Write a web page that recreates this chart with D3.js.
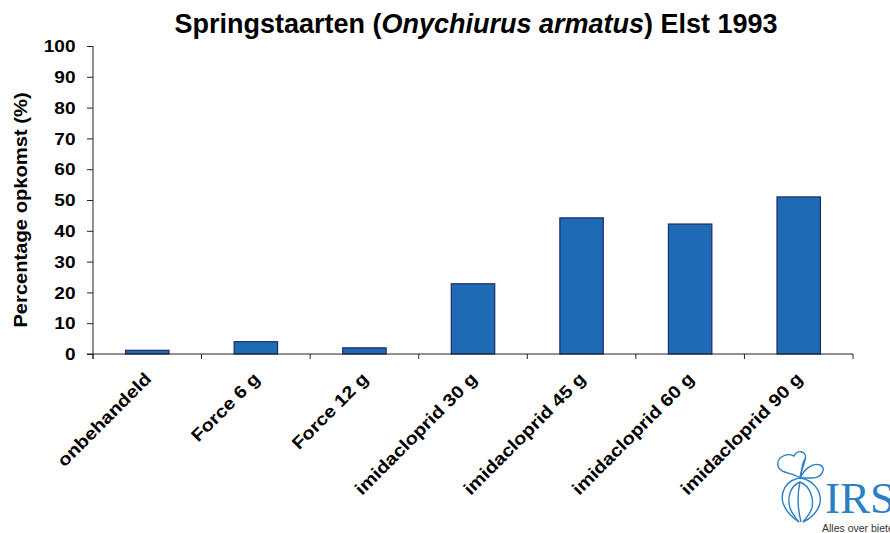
<!DOCTYPE html>
<html>
<head>
<meta charset="utf-8">
<script src="https://cdn.jsdelivr.net/npm/d3@7"></script>
<style>
  html, body { margin: 0; padding: 0; background: #fff; }
  svg { display: block; }
  text { font-family: "Liberation Sans", Arial, sans-serif; font-weight: bold; fill: #000; }
</style>
</head>
<body>
<svg id="chart" width="890" height="533"></svg>
<script>
// ---- data ----
const categories = ["onbehandeld", "Force 6 g", "Force 12 g", "imidacloprid 30 g", "imidacloprid 45 g", "imidacloprid 60 g", "imidacloprid 90 g"];
const values = [1.2, 4, 2, 22.8, 44.2, 42.2, 51];
const yTicks = [0, 10, 20, 30, 40, 50, 60, 70, 80, 90, 100];
const titleParts = [["Springstaarten (", false], ["Onychiurus armatus", true], [") Elst 1993", false]];
const yLabel = "Percentage opkomst (%)";

// ---- layout ----
const svg = d3.select("#chart");
const mLeft = 93, mRight = 853, mTop = 46, mBottom = 354;
const stretch = 1.12;

const x = d3.scaleBand().domain(categories).range([mLeft, mRight]).paddingInner(0.6).paddingOuter(0.3);
const xEdge = d3.scaleBand().domain(categories).range([mLeft, mRight]).padding(0);
const y = d3.scaleLinear().domain([0, 100]).range([mBottom, mTop]);

// title
const title = svg.append("text").attr("x", 476).attr("y", 33).attr("text-anchor", "middle").style("font-size", "27px");
titleParts.forEach(([t, it]) => title.append("tspan").text(t).style("font-style", it ? "italic" : "normal"));

// y label
svg.append("text")
  .attr("transform", `translate(27,210) rotate(-90) scale(${stretch},1)`)
  .attr("text-anchor", "middle")
  .style("font-size", "18px")
  .text(yLabel);

// bars
svg.append("g").selectAll("rect").data(categories).join("rect")
  .attr("x", d => x(d))
  .attr("width", x.bandwidth())
  .attr("y", (d, i) => y(values[i]))
  .attr("height", (d, i) => y(0) - y(values[i]))
  .attr("fill", "#1f6ab5")
  .attr("stroke", "#1b2d66")
  .attr("stroke-width", 1.2);

// y axis
const yAxis = svg.append("g").attr("transform", `translate(${mLeft},0)`)
  .call(d3.axisLeft(y).tickValues(yTicks).tickSize(6).tickPadding(0).tickFormat(""));
yAxis.select(".domain").attr("d", `M0,${mTop}V${mBottom + 5}`).attr("stroke", "#222");
yAxis.selectAll(".tick line").attr("stroke", "#222");
svg.append("g").selectAll("text").data(yTicks).join("text")
  .attr("transform", d => `translate(75.5,${y(d)}) scale(${stretch},1)`)
  .attr("dy", "0.36em")
  .attr("text-anchor", "end")
  .style("font-size", "17px")
  .text(d => d);

// x axis
svg.append("line").attr("x1", mLeft - 6).attr("x2", mRight).attr("y1", mBottom).attr("y2", mBottom).attr("stroke", "#222");
const edges = categories.map(c => xEdge(c)).concat([mRight]);
svg.append("g").selectAll("line").data(edges).join("line")
  .attr("x1", d => d).attr("x2", d => d).attr("y1", mBottom).attr("y2", mBottom + 5)
  .attr("stroke", "#222");

svg.append("g").selectAll("text").data(categories).join("text")
  .attr("transform", d => `translate(${x(d) + x.bandwidth() / 2 + 5},380) rotate(-45) scale(1.14,1)`)
  .attr("text-anchor", "end")
  .style("font-size", "17.5px")
  .text(d => d);

// IRS logo
const logo = svg.append("g").attr("fill", "none").attr("stroke", "#2b7fc3").attr("stroke-width", 1.4);
logo.append("path").attr("d", "M800,478 C792,472 780,474 778,466 C776,458 786,452 794,456 C798,448 808,452 805,460 C803,468 800,474 800,478 Z");
logo.append("path").attr("d", "M800,478 C804,470 812,462 820,465 C827,468 822,478 812,478 C806,478 802,478 800,478 Z");
logo.append("path").attr("d", "M800,478 C803,470 801,462 806,458");
logo.append("path").attr("d", "M800,478 C786,480 780,492 783,503 C786,512 794,519 799,522");
logo.append("path").attr("d", "M800,478 C814,480 822,492 820,503 C818,512 810,519 803,522");
logo.append("path").attr("d", "M800,482 C790,486 787,498 790,508 C792,514 796,518 799,522");
logo.append("path").attr("d", "M800,482 C810,486 814,498 812,508 C810,514 806,518 803,522");
logo.append("path").attr("d", "M800,482 C797,495 798,510 801,522");
svg.append("text").attr("x", 825).attr("y", 513)
  .style("font-family", "'Liberation Serif', 'DejaVu Serif', serif").style("font-weight", "normal")
  .style("font-size", "45px").style("fill", "#2b7fc3").text("IRS");
svg.append("text").attr("x", 822).attr("y", 532)
  .style("font-weight", "normal").style("font-size", "10.5px").style("fill", "#333").text("Alles over bieten");
</script>
</body>
</html>
